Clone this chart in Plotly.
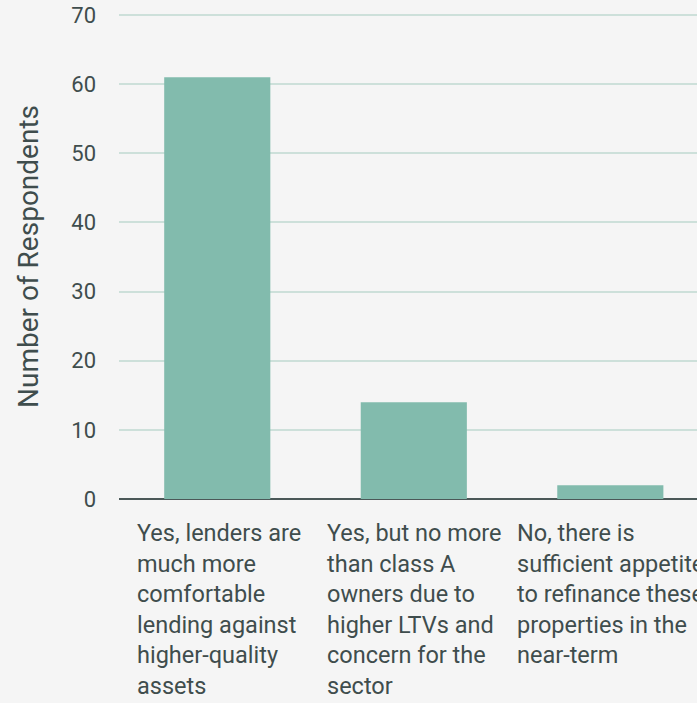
import plotly.graph_objects as go

categories = [
    "Yes, lenders are<br>much more<br>comfortable<br>lending against<br>higher-quality<br>assets",
    "Yes, but no more<br>than class A<br>owners due to<br>higher LTVs and<br>concern for the<br>sector",
    "No, there is<br>sufficient appetite<br>to refinance these<br>properties in the<br>near-term",
]
values = [61, 14, 2]
y_ticks = [0, 10, 20, 30, 40, 50, 60, 70]
y_title = "Number of Respondents"

FONT = "Roboto, sans-serif"
TEXT = "#3f4d4d"

xs = list(range(len(categories)))
fig = go.Figure(go.Bar(x=xs, y=values, marker_color="#82bbad", marker_line_width=0, width=0.54))

annotations = []
label_offsets = [-0.417, -0.453, -0.483]
for i, cat in enumerate(categories):
    annotations.append(dict(
        x=xs[i] + label_offsets[i], y=0, xref="x", yref="paper",
        xanchor="left", yanchor="top", align="left", text=cat, showarrow=False,
        yshift=-18, font=dict(family=FONT, size=23.5, color=TEXT),
    ))

fig.update_layout(
    width=697, height=703,
    paper_bgcolor="#f5f5f5", plot_bgcolor="#f5f5f5",
    margin=dict(l=119, r=0, t=14, b=204),
    showlegend=False,
    annotations=annotations,
    xaxis=dict(range=[-0.5, 2.441], showticklabels=False, showgrid=False, zeroline=False,
               showline=False, fixedrange=True),
    yaxis=dict(range=[0, 70.15], tickvals=y_ticks, showgrid=True, gridcolor="#cde0da", gridwidth=2,
               zeroline=True, zerolinecolor="#4b5858", zerolinewidth=2,
               tickfont=dict(family=FONT, size=22, color=TEXT), ticklabelstandoff=22,
               title=dict(text=y_title, font=dict(family=FONT, size=28, color=TEXT), standoff=24)),
)

fig.write_html("out.html", config={"displayModeBar": False})
with open("out.html", encoding="utf-8") as f:
    html = f.read()
html = html.replace("<body>", '<body style="margin:0;padding:0;background:#f5f5f5">', 1)
with open("out.html", "w", encoding="utf-8") as f:
    f.write(html)
